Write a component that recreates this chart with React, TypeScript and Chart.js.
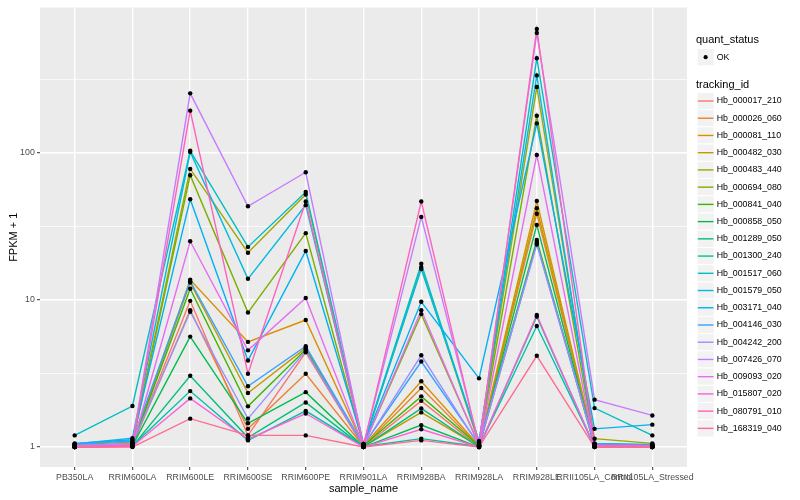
import React, { useEffect, useRef } from "react";
import { Chart, registerables } from "chart.js";

Chart.register(...registerables);

// ---------- data ----------
const sampleNames = [
  "PB350LA",
  "RRIM600LA",
  "RRIM600LE",
  "RRIM600SE",
  "RRIM600PE",
  "RRIM901LA",
  "RRIM928BA",
  "RRIM928LA",
  "RRIM928LE",
  "RRII105LA_Control",
  "RRII105LA_Stressed",
];

const quantStatus = ["OK"];

const trackingIds = [
  "Hb_000017_210",
  "Hb_000026_060",
  "Hb_000081_110",
  "Hb_000482_030",
  "Hb_000483_440",
  "Hb_000694_080",
  "Hb_000841_040",
  "Hb_000858_050",
  "Hb_001289_050",
  "Hb_001300_240",
  "Hb_001517_060",
  "Hb_001579_050",
  "Hb_003171_040",
  "Hb_004146_030",
  "Hb_004242_200",
  "Hb_007426_070",
  "Hb_009093_020",
  "Hb_015807_020",
  "Hb_080791_010",
  "Hb_168319_040",
];

// FPKM + 1 per sample (order of sampleNames)
const hb_000017_210 = [1.0, 1.02, 9.85, 1.2, 4.4, 1.0, 2.06, 1.0, 24.8, 1.01, 1.0];
const hb_000026_060 = [1.01, 1.03, 8.5, 1.33, 3.15, 1.01, 2.52, 1.01, 38.5, 1.02, 1.01];
const hb_000081_110 = [1.02, 1.05, 13.7, 5.18, 7.3, 1.02, 2.8, 1.02, 46.9, 1.03, 1.02];
const hb_000482_030 = [1.03, 1.04, 13.1, 2.33, 4.7, 1.01, 1.72, 1.01, 41.9, 1.04, 1.03];
const hb_000483_440 = [1.04, 1.08, 77.6, 20.9, 52, 1.03, 16.7, 1.05, 279, 1.14, 1.06];
const hb_000694_080 = [1.01, 1.05, 70.3, 8.2, 28.4, 1.02, 8.0, 1.03, 178, 1.05, 1.03];
const hb_000841_040 = [1.01, 1.03, 11.9, 1.89, 4.6, 1.02, 2.21, 1.02, 25.5, 1.02, 1.01];
const hb_000858_050 = [1.0, 1.02, 5.63, 1.45, 2.36, 1.0, 1.41, 1.0, 32.3, 1.01, 1.0];
const hb_001289_050 = [1.0, 1.01, 3.05, 1.16, 2.01, 1.0, 1.83, 1.0, 7.7, 1.0, 1.0];
const hb_001300_240 = [1.01, 1.02, 2.4, 1.11, 1.76, 1.01, 1.14, 1.01, 6.64, 1.01, 1.0];
const hb_001517_060 = [1.2, 1.9, 103, 22.9, 54, 1.05, 17.6, 1.08, 438, 1.84, 1.2];
const hb_001579_050 = [1.05, 1.15, 101, 13.9, 44, 1.04, 16.2, 1.1, 335, 1.06, 1.04];
const hb_003171_040 = [1.06, 1.12, 48.3, 3.87, 21.5, 1.05, 9.7, 2.93, 158, 1.33, 1.42];
const hb_004146_030 = [1.05, 1.1, 13.4, 2.59, 4.84, 1.03, 3.81, 1.04, 24.2, 1.05, 1.03];
const hb_004242_200 = [1.02, 1.06, 8.3, 1.56, 4.5, 1.02, 4.2, 1.02, 23.8, 1.03, 1.02];
const hb_007426_070 = [1.02, 1.05, 253, 43.2, 73.6, 1.03, 36.6, 1.05, 650, 2.1, 1.64];
const hb_009093_020 = [1.0, 1.02, 25, 4.54, 10.3, 1.01, 8.5, 1.02, 96.5, 1.02, 1.01];
const hb_015807_020 = [1.0, 1.01, 2.14, 1.13, 1.69, 1.0, 1.32, 1.0, 7.9, 1.0, 1.0];
const hb_080791_010 = [1.0, 1.03, 193, 3.15, 46.6, 1.02, 46.6, 1.02, 692, 1.03, 1.02];
const hb_168319_040 = [1.0, 1.0, 1.56, 1.2, 1.2, 1.0, 1.11, 1.0, 4.17, 1.0, 1.0];

const seriesValues = [
  hb_000017_210,
  hb_000026_060,
  hb_000081_110,
  hb_000482_030,
  hb_000483_440,
  hb_000694_080,
  hb_000841_040,
  hb_000858_050,
  hb_001289_050,
  hb_001300_240,
  hb_001517_060,
  hb_001579_050,
  hb_003171_040,
  hb_004146_030,
  hb_004242_200,
  hb_007426_070,
  hb_009093_020,
  hb_015807_020,
  hb_080791_010,
  hb_168319_040,
];

const yTickLabels = [1, 10, 100];

// ---------- styles ----------
const palette = [
  "#F8766D", "#EA8331", "#D89000", "#C09B00", "#A3A500",
  "#7CAE00", "#39B600", "#00BB4E", "#00BF7D", "#00C1A3",
  "#00BFC4", "#00BAE0", "#00B0F6", "#35A2FF", "#9590FF",
  "#C77CFF", "#E76BF3", "#FA62DB", "#FF62BC", "#FF6C91",
];
const FONT = '"Liberation Sans", Arial, Helvetica, sans-serif';

const isMajor = (v: number) => yTickLabels.some((m) => Math.abs(m - v) < 1e-6);

const bgPlugin = {
  id: "ggBackground",
  beforeDraw(chart: any) {
    const { ctx, chartArea } = chart;
    ctx.save();
    ctx.fillStyle = "#FFFFFF";
    ctx.fillRect(0, 0, chart.width, chart.height);
    ctx.fillStyle = "#EBEBEB";
    ctx.fillRect(chartArea.left, chartArea.top, chartArea.right - chartArea.left, chartArea.bottom - chartArea.top);
    ctx.restore();
  },
};

const legendPlugin = {
  id: "ggLegend",
  afterDraw(chart: any) {
    const ctx = chart.ctx;
    const x0 = 697;
    const key = 17.28;
    ctx.save();
    ctx.textBaseline = "middle";
    ctx.textAlign = "left";
    // quant_status section
    ctx.fillStyle = "#000000";
    ctx.font = `11px ${FONT}`;
    ctx.fillText("quant_status", 696, 40);
    const qTop = 48.5;
    quantStatus.forEach((q, i) => {
      const top = qTop + i * key;
      ctx.fillStyle = "#F2F2F2";
      ctx.fillRect(x0, top, key, key);
      ctx.strokeStyle = "#FFFFFF";
      ctx.lineWidth = 1;
      ctx.strokeRect(x0, top, key, key);
      ctx.fillStyle = "#000000";
      ctx.beginPath();
      ctx.arc(x0 + key / 2, top + key / 2, 2.1, 0, Math.PI * 2);
      ctx.fill();
      ctx.font = `8.8px ${FONT}`;
      ctx.fillText(q, 716.7, top + key / 2);
    });
    // tracking_id section
    ctx.font = `11px ${FONT}`;
    ctx.fillStyle = "#000000";
    ctx.fillText("tracking_id", 696, 85);
    const step = 17.23;
    trackingIds.forEach((id, i) => {
      const cy = 101 + i * step;
      const top = cy - key / 2;
      ctx.fillStyle = "#F2F2F2";
      ctx.fillRect(x0, top, key, key);
      ctx.strokeStyle = "#FFFFFF";
      ctx.lineWidth = 1;
      ctx.strokeRect(x0, top, key, key);
      ctx.strokeStyle = palette[i];
      ctx.lineWidth = 1.4;
      ctx.beginPath();
      ctx.moveTo(x0 + 0.8, cy);
      ctx.lineTo(x0 + key - 0.8, cy);
      ctx.stroke();
      ctx.fillStyle = "#000000";
      ctx.font = `8.8px ${FONT}`;
      ctx.fillText(id, 716.7, cy);
    });
    ctx.restore();
  },
};

export default function App() {
  const canvasRef = useRef<HTMLCanvasElement | null>(null);

  useEffect(() => {
    const canvas = canvasRef.current;
    if (!canvas) return;

    const lineSets = seriesValues.map((vals, i) => ({
      label: trackingIds[i],
      data: vals.map((v, j) => ({ x: j, y: v })),
      borderColor: palette[i],
      backgroundColor: palette[i],
      borderWidth: 1.4,
      pointRadius: 0,
      fill: false,
      tension: 0,
      order: 100 - i,
    }));
    const pointSets = seriesValues.map((vals, i) => ({
      label: trackingIds[i] + " (" + quantStatus[0] + ")",
      data: vals.map((v, j) => ({ x: j, y: v })),
      showLine: false,
      pointRadius: 2.2,
      pointBorderWidth: 0,
      pointBackgroundColor: "#000000",
      pointBorderColor: "#000000",
      borderColor: "#000000",
      backgroundColor: "#000000",
      order: 0,
    }));

    const chart = new Chart(canvas, {
      type: "line",
      data: { datasets: [...lineSets, ...pointSets] as any },
      plugins: [bgPlugin, legendPlugin],
      options: {
        animation: false,
        responsive: false,
        devicePixelRatio: 1,
        layout: { padding: { top: 5, right: 113, left: 0, bottom: 0 } },
        plugins: { legend: { display: false }, tooltip: { enabled: false } },
        scales: {
          x: {
            type: "linear",
            min: -0.6,
            max: sampleNames.length - 1 + 0.6,
            bounds: "data",
            afterBuildTicks: (s: any) => {
              s.ticks = sampleNames.map((_, i) => ({ value: i }));
            },
            afterFit: (s: any) => {
              s.height = 33;
            },
            ticks: {
              autoSkip: false,
              maxRotation: 0,
              minRotation: 0,
              padding: 2.2,
              color: "#4D4D4D",
              font: { family: FONT, size: 8.8 },
              callback: (v: any) => sampleNames[Math.round(Number(v))] ?? "",
            },
            grid: {
              color: "#FFFFFF",
              lineWidth: 1.4,
              tickColor: "#333333",
              tickLength: 3,
              tickWidth: 1,
            },
            border: { display: false },
            title: {
              display: true,
              text: "sample_name",
              color: "#000000",
              font: { family: FONT, size: 11 },
              padding: { top: 0, bottom: 4.4 },
            },
          },
          y: {
            type: "logarithmic",
            min: 0.732,
            max: 969,
            bounds: "data",
            afterBuildTicks: (s: any) => {
              const t: any[] = [];
              yTickLabels.forEach((m) => {
                t.push({ value: m });
                t.push({ value: m * Math.sqrt(10) });
              });
              s.ticks = t;
            },
            afterFit: (s: any) => {
              s.width = 40;
            },
            ticks: {
              autoSkip: false,
              padding: 2.2,
              color: "#4D4D4D",
              font: { family: FONT, size: 8.8 },
              callback: (v: any) => (isMajor(Number(v)) ? String(Math.round(Number(v))) : ""),
            },
            grid: {
              color: "#FFFFFF",
              lineWidth: (c: any) => (c.tick && isMajor(c.tick.value) ? 1.4 : 0.7),
              tickColor: (c: any) => (c.tick && isMajor(c.tick.value) ? "#333333" : "rgba(0,0,0,0)"),
              tickLength: 3,
              tickWidth: 1,
            },
            border: { display: false },
            title: {
              display: true,
              text: "FPKM + 1",
              color: "#000000",
              font: { family: FONT, size: 11 },
              padding: { top: 7, bottom: 0 },
            },
          },
        },
      } as any,
    });

    return () => chart.destroy();
  }, []);

  return (
    <div style={{ position: "absolute", left: 0, top: 0, width: 800, height: 500 }}>
      <canvas ref={canvasRef} width={800} height={500} style={{ width: 800, height: 500 }} />
    </div>
  );
}
